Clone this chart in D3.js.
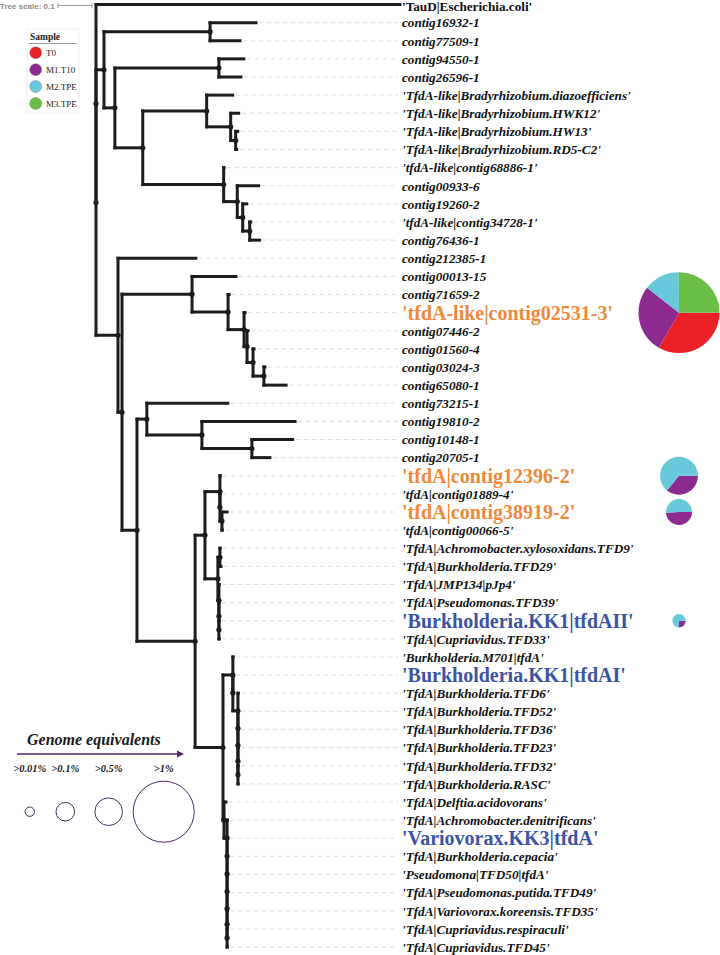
<!DOCTYPE html>
<html><head><meta charset="utf-8">
<script src="https://cdn.jsdelivr.net/npm/d3@7"></script>
<style>
html,body{margin:0;padding:0;background:#fff;}
svg{display:block;}
</style></head>
<body>
<svg id="chart" width="720" height="955"></svg>
<script>
// ---------- DATA ----------
// Tree in Newick form (branch lengths in substitutions/site), assembled from clades
const cladeBrady = "('TfdA-like|Bradyrhizobium.diazoefficiens':0.0765,('TfdA-like|Bradyrhizobium.HWK12':0.0235,('TfdA-like|Bradyrhizobium.HW13':0.006,'TfdA-like|Bradyrhizobium.RD5-C2':0.003):0.0147):0.0706)";
const clade68886 = "('tfdA-like|contig68886-1':0.001,(contig00933-6:0.063,(contig19260-2:0.012,('tfdA-like|contig34728-1':0.003,contig76436-1:0.029):0.0206):0.016):0.04)";
const cladeA = `((contig16932-1:0.135,contig77509-1:0.088):0.312,((contig94550-1:0.0735,contig26596-1:0.0647):0.306,(${cladeBrady}:0.188,${clade68886}:0.238):0.082):0.032)`;
const cladeE = "(contig00013-15:0.129,(contig71659-2:0.003,('tfdA-like|contig02531-3':0.003,(contig07446-2:0.003,(contig01560-4:0.003,(contig03024-3:0.003,contig65080-1:0.065):0.032):0.0176):0.0088):0.047):0.106)";
const cladeL = "(contig73215-1:0.238,(contig19810-2:0.274,(contig10148-1:0.12,contig20705-1:0.053):0.147):0.162)";
const cladeR = "('tfdA|contig12396-2':0.001,('tfdA|contig01889-4':0.001,('tfdA|contig38919-2':0.015,'tfdA|contig00066-5':0.001):0.006):0)";
const cladeS = "(('TfdA|Achromobacter.xylosoxidans.TFD9':0.001,'TfdA|Burkholderia.TFD29':0.003):0.006,('TfdA|JMP134|pJp4':0.001,('TfdA|Pseudomonas.TFD39':0.001,('Burkholderia.KK1|tfdAII':0.001,'TfdA|Cupriavidus.TFD33':0.001):0):0):0.003)";
const cladeT = "('Burkholderia.M701|tfdA':0.001,('Burkholderia.KK1|tfdAI':0.001,('TfdA|Burkholderia.TFD6':0.001,('TfdA|Burkholderia.TFD52':0.001,('TfdA|Burkholderia.TFD36':0.001,('TfdA|Burkholderia.TFD23':0.001,('TfdA|Burkholderia.TFD32':0.001,'TfdA|Burkholderia.RASC':0.001):0):0):0):0):0.015):0)";
const cladeU = "('TfdA|Delftia.acidovorans':0.006,('TfdA|Achromobacter.denitrificans':0.001,('Variovorax.KK3|tfdA':0.001,('TfdA|Burkholderia.cepacia':0.001,('Pseudomona|TFD50|tfdA':0.001,('TfdA|Pseudomonas.putida.TFD49':0.001,('TfdA|Variovorax.koreensis.TFD35':0.001,('TfdA|Cupriavidus.respiraculi':0.001,'TfdA|Cupriavidus.TFD45':0.001):0):0):0):0):0):0):0.009)";
const cladeM = `((${cladeR}:0.044,${cladeS}:0.038):0.029,(${cladeT}:0.029,${cladeU}:0.003):0.082)`;
const cladeC = `(contig212385-1:0.229,(${cladeE}:0.206,(${cladeL}:0.029,${cladeM}:0.171):0.044):0.0118)`;
const newick = `('TauD|Escherichia.coli':0.894,(${cladeA}:0.0235,${cladeC}:0.0647):0);`;

const outgroup = ["'TauD|Escherichia.coli'"];
const orangeLeaves = ["'tfdA-like|contig02531-3'", "'tfdA|contig12396-2'", "'tfdA|contig38919-2'"];
const blueLeaves = ["'Burkholderia.KK1|tfdAII'", "'Burkholderia.KK1|tfdAI'", "'Variovorax.KK3|tfdA'"];

const samples = ["T0", "M1.T10", "M2.TPE", "M3.TPE"];
const sampleColors = ["#ec2027", "#8d2a8f", "#68c9db", "#6abd45"];

const pieLeaves = ["'tfdA-like|contig02531-3'", "'tfdA|contig12396-2'", "'tfdA|contig38919-2'", "'Burkholderia.KK1|tfdAII'"];
const pieT0 = [33.3, 0, 0, 0];
const pieM1 = [27.2, 36, 49, 25];
const pieM2 = [14.4, 64, 51, 75];
const pieM3 = [25.1, 0, 0, 0];
const pieClass = [">1%", ">0.5%", ">0.1%", ">0.01%"];

const sizeClasses = [">0.01%", ">0.1%", ">0.5%", ">1%"];
const treeScaleValue = 0.1;

// ---------- PARSE NEWICK ----------
function parseNewick(s) {
  let i = 0;
  function node() {
    const n = {};
    if (s[i] === '(') {
      i++; n.children = [];
      while (true) {
        n.children.push(node());
        if (s[i] === ',') { i++; continue; }
        break;
      }
      i++; // ')'
    }
    let name = '';
    while (i < s.length && !'():,;'.includes(s[i])) name += s[i++];
    n.name = name;
    if (s[i] === ':') {
      i++; let num = '';
      while (i < s.length && !'(),;'.includes(s[i])) num += s[i++];
      n.length = +num;
    } else n.length = 0;
    return n;
  }
  return node();
}

const root = d3.hierarchy(parseNewick(newick));
root.each(d => { d.dist = d.parent ? d.parent.dist + d.data.length : 0; });
const leaves = root.leaves();

const svg = d3.select("#chart");
const x = d3.scaleLinear().domain([0, 1]).range([96, 436]);
const y = d3.scalePoint().domain(leaves.map(d => d.data.name)).range([4.5, 947]);

root.eachAfter(d => {
  if (d.children) d.yy = (d.children[0].yy + d.children[d.children.length - 1].yy) / 2;
  else d.yy = y(d.data.name);
});

const labelX = 402;
const serif = "'Liberation Serif','Times New Roman',serif";

// dashed leader lines
svg.append("g").selectAll("line").data(leaves.filter(d => !outgroup.includes(d.data.name)))
  .join("line")
  .attr("x1", d => x(d.dist) + 3).attr("x2", labelX - 4)
  .attr("y1", d => d.yy).attr("y2", d => d.yy)
  .attr("stroke", "#dadada").attr("stroke-width", 1).attr("stroke-dasharray", "4,4");

const gTree = svg.append("g").attr("stroke", "#1c1c1c").attr("stroke-width", 3).attr("stroke-linecap", "square").attr("fill", "none");
// horizontal branches
gTree.selectAll("line.h").data(root.descendants().filter(d => d.parent))
  .join("line").attr("class", "h")
  .attr("x1", d => x(d.parent.dist)).attr("x2", d => x(d.dist))
  .attr("y1", d => d.yy).attr("y2", d => d.yy);
// vertical connectors
gTree.selectAll("line.v").data(root.descendants().filter(d => d.children))
  .join("line").attr("class", "v")
  .attr("x1", d => x(d.dist)).attr("x2", d => x(d.dist))
  .attr("y1", d => d.children[0].yy).attr("y2", d => d.children[d.children.length - 1].yy);
// node dots
svg.append("g").selectAll("circle").data(root.descendants().filter(d => d.children))
  .join("circle").attr("cx", d => x(d.dist)).attr("cy", d => d.yy).attr("r", 2.6).attr("fill", "#1c1c1c");

// labels
const isBig = n => orangeLeaves.includes(n) || blueLeaves.includes(n);
svg.append("g").selectAll("text").data(leaves).join("text")
  .attr("x", labelX).attr("y", d => d.yy)
  .attr("dy", d => outgroup.includes(d.data.name) ? "0.5em" : "0.36em")
  .attr("font-family", serif).attr("font-weight", "bold")
  .attr("font-style", d => (outgroup.includes(d.data.name) || isBig(d.data.name)) ? "normal" : "italic")
  .attr("font-size", d => isBig(d.data.name) ? 20 : 13.2)
  .attr("fill", d => orangeLeaves.includes(d.data.name) ? "#f0883a" : blueLeaves.includes(d.data.name) ? "#3b54a3" : "#111")
  .text(d => d.data.name);

// pies
const pieR = d3.scaleOrdinal().domain([">0.01%", ">0.1%", ">0.5%", ">1%"]).range([6.7, 13, 19, 40.5]);
const pie = d3.pie().sort(null).startAngle(Math.PI / 2).endAngle(Math.PI / 2 + 2 * Math.PI);
const pieX = 679;
pieLeaves.forEach((name, i) => {
  const leaf = leaves.find(l => l.data.name === name);
  const vals = [pieT0[i], pieM1[i], pieM2[i], pieM3[i]];
  const arc = d3.arc().innerRadius(0).outerRadius(pieR(pieClass[i]));
  svg.append("g").attr("transform", `translate(${pieX},${leaf.yy})`)
    .selectAll("path").data(pie(vals)).join("path")
    .attr("d", arc).attr("fill", (d, j) => sampleColors[j]);
});

// tree scale
const sb = svg.append("g");
const sx0 = x(0) - (x(treeScaleValue) - x(0)) - 4, sx1 = x(0) - 4;
sb.append("text").attr("x", 0).attr("y", 9).attr("font-family", "'Liberation Sans',Arial,sans-serif")
  .attr("font-size", 8).attr("font-weight", "bold").attr("fill", "#8c8c8c").text("Tree scale: " + treeScaleValue);
sb.append("line").attr("x1", sx0).attr("x2", sx1).attr("y1", 5.5).attr("y2", 5.5).attr("stroke", "#9a9a9a");
[sx0, sx1].forEach(v => sb.append("line").attr("x1", v).attr("x2", v).attr("y1", 3).attr("y2", 8).attr("stroke", "#9a9a9a"));

// sample legend
const lg = svg.append("g");
lg.append("rect").attr("x", 27).attr("y", 29).attr("width", 52).attr("height", 84).attr("fill", "#fff").attr("stroke", "#f0f0f0");
lg.append("text").attr("x", 30).attr("y", 40).attr("font-family", serif).attr("font-weight", "bold").attr("font-size", 9.5).attr("fill", "#222").text("Sample");
lg.append("line").attr("x1", 29).attr("x2", 77).attr("y1", 43.5).attr("y2", 43.5).attr("stroke", "#888").attr("stroke-width", 0.8);
const ly = d3.scalePoint().domain(samples).range([52.7, 103.5]);
lg.selectAll("circle").data(samples).join("circle")
  .attr("cx", 35.7).attr("cy", d => ly(d)).attr("r", 6)
  .attr("fill", (d, i) => sampleColors[i]).attr("stroke", "#777").attr("stroke-width", 0.4);
lg.selectAll("text.s").data(samples).join("text").attr("class", "s")
  .attr("x", 46).attr("y", d => ly(d)).attr("dy", "0.35em")
  .attr("font-family", serif).attr("font-size", 9).attr("fill", "#222").text(d => d);

// genome equivalents legend
const ge = svg.append("g");
ge.append("text").attr("x", 27).attr("y", 745).attr("font-family", serif).attr("font-weight", "bold").attr("font-style", "italic")
  .attr("font-size", 16).attr("fill", "#1a1a1a").text("Genome equivalents");
ge.append("line").attr("x1", 17).attr("x2", 178).attr("y1", 754).attr("y2", 754).attr("stroke", "#4a2a6a").attr("stroke-width", 1.3);
ge.append("path").attr("d", "M177,750.5L184,754L177,757.5Z").attr("fill", "#4a2a6a");
const gx = d3.scaleOrdinal().domain(sizeClasses).range([29.8, 65.3, 108.7, 163.7]);
const gr = d3.scaleOrdinal().domain(sizeClasses).range([4.7, 9.3, 13.8, 30.5]);
ge.selectAll("text.c").data(sizeClasses).join("text").attr("class", "c")
  .attr("x", d => gx(d)).attr("y", 772).attr("text-anchor", "middle")
  .attr("font-family", serif).attr("font-weight", "bold").attr("font-style", "italic").attr("font-size", 10.5).attr("fill", "#1a1a1a")
  .text(d => d);
ge.selectAll("circle").data(sizeClasses).join("circle")
  .attr("cx", d => gx(d)).attr("cy", 811.7).attr("r", d => gr(d))
  .attr("fill", "none").attr("stroke", "#4a2a6a").attr("stroke-width", 1);
</script>
</body></html>
